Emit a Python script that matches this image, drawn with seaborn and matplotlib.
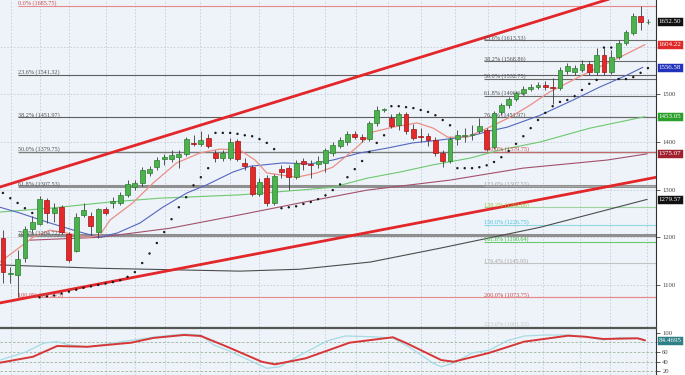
import numpy as np
import pandas as pd
import seaborn as sns
import matplotlib.pyplot as plt
from matplotlib.transforms import blended_transform_factory

# weekly candles (price), one entry per week
opens = [1198, 1123, 1120, 1156, 1217, 1228, 1278, 1251, 1263, 1207,
         1171, 1247, 1244, 1211, 1259, 1272, 1272, 1288, 1305, 1314,
         1335, 1347, 1364, 1364, 1368, 1375, 1398, 1396, 1408, 1377,
         1366, 1366, 1402, 1356, 1347, 1291, 1324, 1272, 1343, 1345,
         1326, 1360, 1354, 1354, 1356, 1377, 1391, 1400, 1417, 1410,
         1406, 1440, 1467, 1450, 1435, 1459, 1427, 1412, 1412, 1404,
         1377, 1360, 1406, 1413, 1415, 1423, 1425, 1389, 1463, 1477,
         1490, 1503, 1511, 1515, 1520, 1515, 1513, 1549, 1547, 1551,
         1564, 1547, 1582, 1547, 1578, 1608, 1629, 1664, 1651]
highs = [1215, 1137, 1173, 1223, 1245, 1286, 1282, 1272, 1267, 1211,
         1251, 1272, 1253, 1261, 1263, 1284, 1295, 1320, 1320, 1347,
         1349, 1368, 1375, 1383, 1383, 1410, 1414, 1423, 1417, 1383,
         1383, 1408, 1406, 1366, 1352, 1324, 1331, 1333, 1352, 1352,
         1362, 1366, 1362, 1370, 1387, 1400, 1410, 1423, 1423, 1417,
         1444, 1475, 1471, 1459, 1463, 1463, 1438, 1429, 1419, 1410,
         1383, 1410, 1425, 1429, 1435, 1450, 1429, 1465, 1482, 1494,
         1507, 1517, 1522, 1526, 1528, 1534, 1557, 1566, 1561, 1572,
         1570, 1597, 1597, 1593, 1614, 1635, 1671, 1685.75, 1658]
lows = [1104, 1104, 1073.75, 1148, 1209, 1225, 1230, 1232, 1207, 1148,
        1169, 1242, 1205, 1198, 1247, 1261, 1268, 1284, 1299, 1307,
        1328, 1341, 1352, 1358, 1345, 1370, 1391, 1391, 1387, 1358,
        1360, 1362, 1360, 1341, 1286, 1286, 1265, 1268, 1324, 1299,
        1322, 1341, 1324, 1345, 1337, 1370, 1387, 1394, 1406, 1400,
        1402, 1433, 1463, 1429, 1425, 1417, 1404, 1400, 1391, 1370,
        1347, 1356, 1394, 1400, 1404, 1419, 1381, 1385, 1456, 1471,
        1486, 1499, 1507, 1511, 1509, 1480, 1509, 1543, 1540, 1547,
        1541, 1541, 1541, 1543, 1574, 1603, 1624, 1635, 1648]
closes = [1127, 1125, 1154, 1217, 1232, 1280, 1251, 1261, 1211, 1152,
          1242, 1257, 1223, 1259, 1251, 1276, 1288, 1312, 1314, 1341,
          1343, 1362, 1368, 1372, 1375, 1406, 1396, 1404, 1391, 1366,
          1377, 1400, 1364, 1349, 1291, 1316, 1272, 1328, 1337, 1326,
          1356, 1354, 1352, 1360, 1383, 1394, 1404, 1417, 1410, 1406,
          1440, 1467, 1469, 1433, 1459, 1423, 1408, 1410, 1404, 1377,
          1360, 1406, 1415, 1415, 1417, 1433, 1385, 1461, 1477, 1490,
          1503, 1511, 1515, 1520, 1515, 1513, 1551, 1559, 1555, 1564,
          1547, 1582, 1547, 1578, 1608, 1631, 1664, 1652, 1652.5]

# parabolic SAR, one dot per week
sar = [1293, 1282, 1272, 1261, 1251,
       1074, 1076, 1078, 1082, 1086, 1090, 1094, 1097, 1100, 1103, 1106, 1110,
       1117, 1127, 1146, 1166, 1188, 1211, 1238, 1263, 1284, 1309, 1326, 1345,
       1419, 1419, 1419, 1417, 1414, 1412, 1406, 1398, 1385,
       1261, 1263, 1265, 1270, 1274, 1280, 1288, 1299, 1311, 1326, 1343, 1360,
       1379, 1398, 1414,
       1475, 1475, 1473, 1471, 1467, 1463, 1456, 1446, 1435,
       1345, 1345, 1345, 1347, 1351, 1358, 1368, 1381, 1396, 1412, 1429, 1446,
       1461, 1475, 1484, 1488, 1496, 1509, 1522, 1530,
       1598, 1598,
       1532, 1532, 1536, 1545, 1555]

# moving averages read at a few weeks
ma10_x = [-0.4, 4.1, 6.4, 8.7, 11.5, 13.2, 14.6, 17.7, 20.5, 23.7, 26.9, 29.6,
          32.3, 34.4, 36.0, 40.1, 42.8, 45.0, 48.3, 50.5, 53.2, 56.5, 58.7,
          60.7, 63.3, 66.4, 69.2, 71.9, 74.6, 79.7, 84.2, 87.6]
ma10_y = [1148, 1200, 1215, 1209, 1200, 1204, 1236, 1272, 1314, 1356, 1377, 1385,
          1383, 1362, 1335, 1326, 1335, 1347, 1389, 1421, 1431, 1440, 1429,
          1410, 1410, 1431, 1452, 1477, 1505, 1545, 1578, 1604.22]
ma20_x = [-0.4, 2.3, 6.4, 10.5, 13.2, 15.6, 18.7, 21.8, 25.1, 27.8, 31.4, 33.7,
          38.2, 41.9, 45.0, 48.7, 52.4, 55.9, 59.6, 63.7, 66.4, 68.8, 73.3,
          77.8, 81.4, 85.1, 87.3]
ma20_y = [1263, 1251, 1230, 1211, 1200, 1209, 1230, 1263, 1293, 1310, 1337, 1349,
          1356, 1354, 1362, 1377, 1387, 1398, 1404, 1412, 1423, 1431, 1456,
          1488, 1515, 1540, 1556.58]
ma50_x = [-0.4, 6.4, 14.6, 21.4, 32.3, 40.5, 45.0, 49.7, 54.2, 58.7, 63.7, 67.8,
          73.3, 80.1, 87.6]
ma50_y = [1253, 1261, 1274, 1282, 1289, 1299, 1305, 1324, 1337, 1352, 1366, 1383,
          1400, 1429, 1453.05]
ma100_x = [3.7, 13.2, 22.8, 32.3, 40.5, 49.7, 61.0, 70.9, 82.4, 87.9]
ma100_y = [1194, 1200, 1219, 1247, 1272, 1299, 1320, 1345, 1362, 1375.07]
ma200_x = [-0.4, 13.2, 32.3, 40.5, 50.1, 59.6, 73.3, 87.9]
ma200_y = [1142, 1135, 1129, 1133, 1148, 1177, 1221, 1279.57]

# trend channel anchors
channel_x = [-0.5, 89.5]
channel_top = [1305, 1732]
channel_bot = [1062, 1327]

# fibonacci levels
fib_left_pct = [0.0, 23.6, 38.2, 50.0, 61.8, 78.6, 100.0]
fib_left_val = [1685.75, 1541.32, 1451.97, 1379.75, 1307.53, 1204.72, 1073.75]
fib_right_pct = [23.6, 38.2, 50.0, 61.8, 76.4, 100.0, 123.6, 138.2, 150.0,
                 161.8, 176.4, 200.0]
fib_right_val = [1613.53, 1568.86, 1532.75, 1496.64, 1451.97, 1379.75, 1307.53,
                 1262.86, 1226.75, 1190.64, 1145.95, 1073.75]

# stochastic (%K fast, %D slow)
stoch_k_x = [-0.4, 3.1, 5.6, 7.4, 9.1, 11.5, 16.2, 21.0, 24.7, 27.0, 28.8, 30.6,
             36.0, 37.8, 40.1, 44.3, 46.7, 50.2, 53.2, 55.7, 58.7, 59.8, 61.5,
             64.0, 66.4, 68.8, 71.1, 74.1, 77.1, 79.4, 81.9, 84.2, 86.6, 87.6]
stoch_k = [43, 60, 79, 81.7, 74.7, 70.5, 81.7, 92.2, 97.9, 95.8, 74.7, 64,
           25.7, 29, 50, 83.8, 93.7, 92.2, 89.5, 67.8, 36.2, 29, 36.8,
           58, 64, 83.8, 93.7, 95.8, 95.8, 92.2, 85.3, 90.5, 88.8, 85.3]
stoch_d_x = [-0.4, 4.1, 7.4, 11.5, 17.5, 20.5, 24.7, 27.0, 30.6, 35.3, 37.1, 41.3,
             47.3, 53.2, 55.0, 59.8, 61.5, 66.3, 71.1, 77.1, 79.4, 81.9, 86.6, 87.6]
stoch_d = [37.5, 50, 72.6, 71, 79.6, 89.5, 95.8, 93.7, 71, 39.6, 34, 46.7,
           79.6, 91, 79, 43, 39.6, 58, 81.7, 94.3, 92.2, 87.4, 88.8, 84.5]

month_starts = [1.1, 5.0, 9.0, 14.1, 18.0, 22.1, 26.9, 31.0, 34.9, 39.6, 44.0,
                48.2, 52.6, 57.0, 61.7, 66.2, 69.9, 73.7, 78.7, 82.8, 87.9]

# 1600 and 80 sit under the value badges, so their labels stay blank
price_ticks = [1100, 1200, 1300, 1400, 1500, 1600]
price_tick_labels = ['1100', '1200', '1300', '1400', '1500', '']
stoch_ticks = [20, 40, 60, 80, 100]
stoch_tick_labels = ['20', '40', '60', '', '100']

price_badges = [1652.50, 1604.22, 1556.58, 1453.05, 1375.07, 1279.57]
stoch_badge = 84.4695

# ---- style
sns.set_theme(style="ticks")
plt.rcParams['font.family'] = ['Liberation Serif', 'DejaVu Serif']

bg = '#edf3f9'
gridc = '#c3ccd8'
fig = plt.figure(figsize=(6.85, 3.75), dpi=100)
W = 656 / 685
ax = fig.add_axes([0, 1 - 327 / 375, W, 327 / 375])
ax2 = fig.add_axes([0, 0, W, 47 / 375])
xlim = (-0.4, 89.1)

for a in (ax, ax2):
    a.set_facecolor(bg)
    a.set_xlim(*xlim)
    a.set_xticks(month_starts)
    a.tick_params(axis='x', length=0, labelbottom=False)
    a.grid(True, axis='x', color=gridc, lw=0.6, ls=(0, (2, 2)))
    a.yaxis.tick_right()
    a.tick_params(axis='y', direction='out', length=3, width=0.6, pad=1.5,
                  labelsize=4.8, colors='#444444')
    for s in ('left', 'bottom', 'top'):
        a.spines[s].set_visible(False)
    a.spines['right'].set_color('#333333')
    a.spines['right'].set_linewidth(0.8)

ax.set_ylim(1011.8, 1697.8)
ax.set_yticks(price_ticks)
ax.set_yticklabels(price_tick_labels)
ax.grid(True, axis='y', color=gridc, lw=0.6, ls=(0, (2, 2)))

# fib lines + labels
left_cols = ['#e98a8a', '#5e5e5e', '#5e5e5e', '#7a7a7a', '#8f8f8f', '#8f8f8f', '#e98a8a']
left_lw = [0.8, 0.8, 0.8, 1.0, 2.2, 2.2, 0.8]
left_txt = ['#d04848', '#505050', '#505050', '#505050', '#505050', '#505050', '#d04848']
for p, v, c, lw, tc in zip(fib_left_pct, fib_left_val, left_cols, left_lw, left_txt):
    ax.hlines(v, 2.0, xlim[1], color=c, lw=lw, zorder=1)
    ax.text(2.0, v - 1, f"{p:.1f}% ({v:.2f})", fontsize=4.4, color=tc,
            ha='left', va='bottom', zorder=3.2)

right_cols = ['#6a6a6a', '#6a6a6a', '#6a6a6a', '#6a6a6a', '#6a6a6a', '#c26a6a',
              '#a8a8a8', '#9fd49f', '#8fd6e6', '#6cc86c', '#c4c4c4', '#e98a8a']
right_txt = ['#505050', '#505050', '#505050', '#505050', '#505050', '#d04040',
             '#a0a0a0', '#a8c23a', '#3fc0e0', '#3cbc3c', '#a8a8a8', '#d04848']
for p, v, c, tc in zip(fib_right_pct, fib_right_val, right_cols, right_txt):
    ax.hlines(v, 65.7, xlim[1], color=c, lw=0.8, zorder=1)
    ax.text(65.7, v - 1, f"{p:.1f}% ({v:.2f})", fontsize=4.4, color=tc,
            ha='left', va='bottom', zorder=3.2)
ax.text(65.7, 1012.5, "223.6% (1001.53)", fontsize=4.4, color='#c2c6cc',
        ha='left', va='bottom', zorder=3.2)

# moving averages
sns.lineplot(x=ma200_x, y=ma200_y, color='#4d4d4d', lw=0.8, ax=ax, zorder=2)
sns.lineplot(x=ma100_x, y=ma100_y, color='#a4506c', lw=0.8, ax=ax, zorder=2)
sns.lineplot(x=ma50_x, y=ma50_y, color='#6fc86f', lw=0.8, ax=ax, zorder=2)
sns.lineplot(x=ma20_x, y=ma20_y, color='#5566c0', lw=0.8, ax=ax, zorder=2)
sns.lineplot(x=ma10_x, y=ma10_y, color='#ec8e86', lw=0.9, ax=ax, zorder=2)

# channel
ax.plot(channel_x, channel_top, color='#e2262a', lw=2.0, zorder=2.6)
ax.plot(channel_x, channel_bot, color='#e2262a', lw=2.0, zorder=2.6)

# candles
df = pd.DataFrame(dict(o=opens, h=highs, l=lows, c=closes))
df['i'] = np.arange(len(df))
up = (df.c >= df.o).values
ax.vlines(df.i, df.l, df.h, color='#3a3a3a', lw=0.6, zorder=3)
body = (df.c - df.o).abs().clip(lower=1.5)
bottom = df[['o', 'c']].min(axis=1)
ax.bar(df.i, body, bottom=bottom, width=0.66,
       color=np.where(up, '#4cb24e', '#e5282a'),
       edgecolor=np.where(up, '#2f7d31', '#a31414'), linewidth=0.5, zorder=3.5)

# SAR dots
sns.scatterplot(x=df.i, y=sar, s=3, color='#1a1a1a', edgecolor='none',
                ax=ax, zorder=4, legend=False)
ax.set_xlim(*xlim)
ax.set_ylim(1011.8, 1697.8)
ax.set_xlabel('')
ax.set_ylabel('')

# value badges on the right
badge_cols = ['#111111', '#e02828', '#2233bb', '#2aa02a', '#a02030', '#111111']
tr = blended_transform_factory(ax.transAxes, ax.transData)
for v, c in zip(price_badges, badge_cols):
    ax.text(1.004, v, f"{v:.2f}", transform=tr, ha='left', va='center',
            fontsize=5, color='white', clip_on=False, zorder=6,
            bbox=dict(boxstyle='square,pad=0.28', fc=c, ec='white', lw=0.4))

# stochastic panel
ax2.set_ylim(11.6, 110.5)
ax2.set_yticks(stoch_ticks)
ax2.set_yticklabels(stoch_tick_labels)
for lv in (20, 40, 60, 80):
    ax2.axhline(lv, color='#9cb49c', lw=0.6, ls=(0, (3, 2)), zorder=1)
sns.lineplot(x=stoch_k_x, y=stoch_k, color='#a6dbe4', lw=0.9, ax=ax2, zorder=2)
sns.lineplot(x=stoch_d_x, y=stoch_d, color='#d73636', lw=1.4, ax=ax2, zorder=3)
ax2.set_xlim(*xlim)
ax2.set_xlabel('')
ax2.set_ylabel('')
ax2.spines['top'].set_visible(True)
ax2.spines['top'].set_color('#555555')
ax2.spines['top'].set_linewidth(1.6)
tr2 = blended_transform_factory(ax2.transAxes, ax2.transData)
ax2.text(1.004, stoch_badge, f"{stoch_badge:.4f}", transform=tr2, ha='left',
         va='center', fontsize=5, color='white', clip_on=False, zorder=6,
         bbox=dict(boxstyle='square,pad=0.28', fc='#2f7f86', ec='white', lw=0.4))

fig.savefig('out.png', dpi=100, facecolor='white')
